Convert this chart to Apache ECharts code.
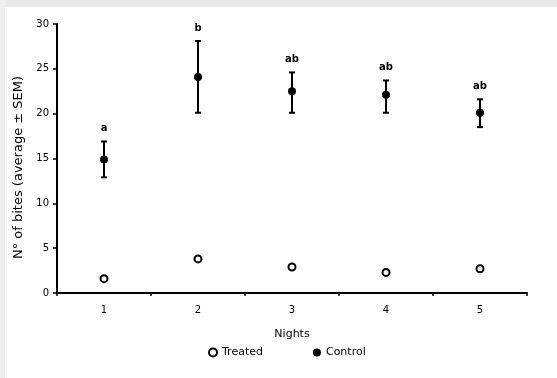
<!DOCTYPE html>
<html>
<head>
<meta charset="utf-8">
<script src="https://cdn.jsdelivr.net/npm/echarts@6/dist/echarts.min.js"></script>
<style>
    html, body {margin: 0; padding: 0; background: #fff;}
    #chart {width: 557px; height: 378px;}
</style>
</head>
<body>
<div id="chart"></div>
<script>
const nights = ['1', '2', '3', '4', '5']
const treated = [1.6, 3.8, 2.9, 2.3, 2.7]
const control = [14.9, 24.1, 22.5, 22.1, 20.1]
const control_low = [12.9, 20.1, 20.1, 20.1, 18.5]
const control_high = [16.9, 28.1, 24.6, 23.7, 21.6]
const letters = ['a', 'b', 'ab', 'ab', 'ab']
const y_ticks = [0, 5, 10, 15, 20, 25, 30]

const FONT = '"DejaVu Sans", Verdana, sans-serif'

const err_data = nights.map((n, i) => [i, control_low[i], control_high[i]])

const chart = echarts.init(document.getElementById('chart'))

chart.setOption({
    backgroundColor: '#fff',
    animation: false,
    textStyle: {fontFamily: FONT, color: '#000'},
    graphic: [
        {type: 'rect', left: 0, top: 0, shape: {width: 557, height: 7}, style: {fill: '#e9e9e9'}, silent: true},
        {type: 'rect', left: 0, top: 0, shape: {width: 5, height: 378}, style: {fill: '#eeeeee'}, silent: true},
    ],
    grid: {left: 57, top: 24, right: 30, bottom: 85},
    legend: {
        top: 342,
        left: 203,
        itemGap: 50,
        itemWidth: 8,
        itemHeight: 8,
        textStyle: {fontFamily: FONT, fontSize: 11, color: '#000'},
        data: ['Treated', 'Control'],
    },
    xAxis: {
        type: 'category',
        data: nights,
        boundaryGap: true,
        name: 'Nights',
        nameLocation: 'middle',
        nameGap: 36,
        nameTextStyle: {fontFamily: FONT, fontSize: 11, color: '#000'},
        axisLine: {lineStyle: {color: '#000', width: 2}},
        axisTick: {show: true, length: 3, lineStyle: {color: '#000', width: 1.5}},
        axisLabel: {fontSize: 10, color: '#000', margin: 12},
        splitLine: {show: false},
    },
    yAxis: {
        type: 'value',
        min: y_ticks[0],
        max: y_ticks[y_ticks.length - 1],
        interval: 5,
        name: 'N° of bites (average ± SEM)',
        nameLocation: 'middle',
        nameGap: 26,
        nameRotate: 90,
        nameTextStyle: {fontFamily: FONT, fontSize: 13, color: '#000', padding: [0, 18, 0, 0]},
        axisLine: {show: true, lineStyle: {color: '#000', width: 2}},
        axisTick: {show: true, length: 4, lineStyle: {color: '#000', width: 1.5}},
        axisLabel: {fontSize: 10, color: '#000', margin: 8},
        splitLine: {show: false},
    },
    series: [
        {
            name: 'Errors',
            type: 'custom',
            z: 1,
            data: err_data,
            renderItem: (params, api) => {
                const lo = api.coord([api.value(0), api.value(1)])
                const hi = api.coord([api.value(0), api.value(2)])
                const cap = 3
                const style = {stroke: '#000', lineWidth: 2}
                return {
                    type: 'group',
                    children: [
                        {type: 'line', shape: {x1: hi[0], y1: hi[1], x2: lo[0], y2: lo[1]}, style},
                        {type: 'line', shape: {x1: hi[0] - cap, y1: hi[1], x2: hi[0] + cap, y2: hi[1]}, style},
                        {type: 'line', shape: {x1: lo[0] - cap, y1: lo[1], x2: lo[0] + cap, y2: lo[1]}, style},
                        {
                            type: 'text',
                            style: {
                                x: hi[0], y: hi[1] - 8,
                                text: letters[params.dataIndex],
                                fill: '#000',
                                font: 'bold 10px ' + FONT,
                                align: 'center',
                                verticalAlign: 'bottom',
                            },
                        },
                    ],
                }
            },
        },
        {
            name: 'Treated',
            type: 'scatter',
            z: 3,
            symbol: 'circle',
            symbolSize: 7,
            itemStyle: {color: '#fff', borderColor: '#000', borderWidth: 2, opacity: 1},
            data: treated,
        },
        {
            name: 'Control',
            type: 'scatter',
            z: 3,
            symbol: 'circle',
            symbolSize: 8,
            itemStyle: {color: '#000', opacity: 1},
            data: control,
        },
    ],
})
</script>
</body>
</html>
